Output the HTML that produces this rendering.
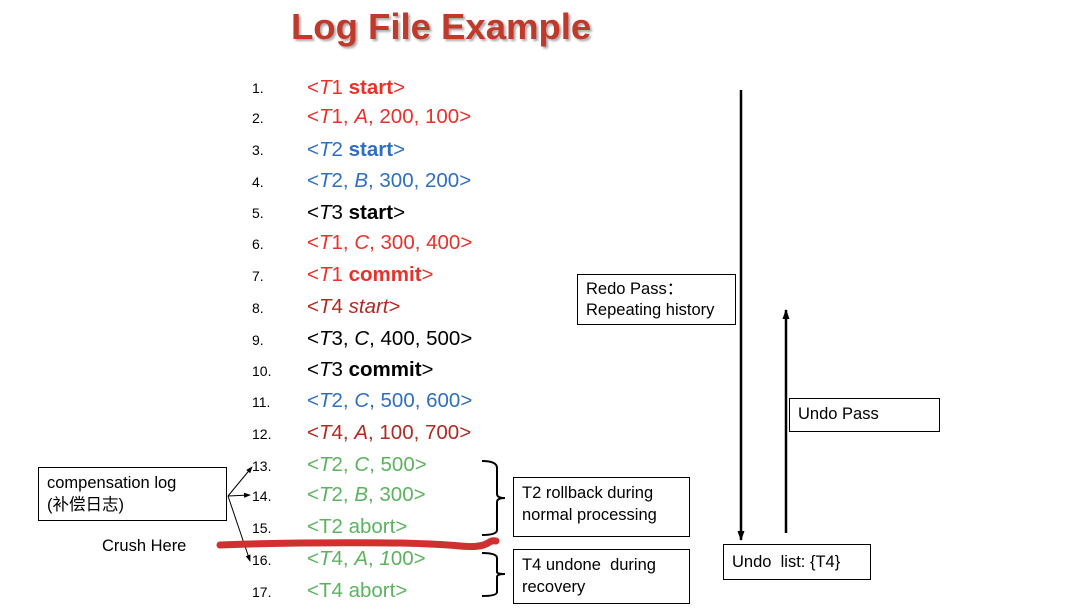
<!DOCTYPE html>
<html><head><meta charset="utf-8"><style>
body{margin:0;width:1090px;height:614px;background:#fff;position:relative;overflow:hidden;font-family:"Liberation Sans","Noto Sans CJK SC",sans-serif}
.a{position:absolute;white-space:nowrap}
.n{position:absolute;left:252px;font-size:14px;color:#000;transform:translateY(-50%)}
.e{position:absolute;left:307px;font-size:20.5px;transform:translateY(-50%);white-space:nowrap}
.r{color:#e8312a}.b{color:#2f6fc0}.k{color:#000}.d{color:#b02a22}.g{color:#5cb35f}
.box{position:absolute;border:1px solid #000;font-size:16.5px;padding:4px 8px;box-sizing:border-box;line-height:22px;white-space:nowrap}
</style></head><body>
<div class="a" style="left:291px;top:6px;font-size:36.5px;font-weight:bold;color:#c0392b;text-shadow:2px 2px 2px #aaa">Log File Example</div>

<div class="n" style="top:88px">1.</div><div class="e r" style="top:88px">&lt;<i>T</i>1 <b>start</b>&gt;</div>
<div class="n" style="top:118px">2.</div><div class="e r" style="top:117px">&lt;<i>T</i>1, <i>A</i>, 200, 100&gt;</div>
<div class="n" style="top:150px">3.</div><div class="e b" style="top:150px">&lt;<i>T</i>2 <b>start</b>&gt;</div>
<div class="n" style="top:182px">4.</div><div class="e b" style="top:181px">&lt;<i>T</i>2, <i>B</i>, 300, 200&gt;</div>
<div class="n" style="top:213px">5.</div><div class="e k" style="top:213px">&lt;<i>T</i>3 <b>start</b>&gt;</div>
<div class="n" style="top:244px">6.</div><div class="e r" style="top:243px">&lt;<i>T</i>1, <i>C</i>, 300, 400&gt;</div>
<div class="n" style="top:276px">7.</div><div class="e r" style="top:275px">&lt;<i>T</i>1 <b>commit</b>&gt;</div>
<div class="n" style="top:308px">8.</div><div class="e d" style="top:307px">&lt;<i>T</i>4 <i>start</i>&gt;</div>
<div class="n" style="top:340px">9.</div><div class="e k" style="top:339px">&lt;<i>T</i>3, <i>C</i>, 400, 500&gt;</div>
<div class="n" style="top:371px">10.</div><div class="e k" style="top:370px">&lt;<i>T</i>3 <b>commit</b>&gt;</div>
<div class="n" style="top:402px">11.</div><div class="e b" style="top:401px">&lt;<i>T</i>2, <i>C</i>, 500, 600&gt;</div>
<div class="n" style="top:434px">12.</div><div class="e d" style="top:433px">&lt;<i>T</i>4, <i>A</i>, 100, 700&gt;</div>
<div class="n" style="top:466px">13.</div><div class="e g" style="top:465px">&lt;<i>T</i>2, <i>C</i>, 500&gt;</div>
<div class="n" style="top:496px">14.</div><div class="e g" style="top:495px">&lt;<i>T</i>2, <i>B</i>, 300&gt;</div>
<div class="n" style="top:528px">15.</div><div class="e g" style="top:527px">&lt;T2 abort&gt;</div>
<div class="n" style="top:560px">16.</div><div class="e g" style="top:559px">&lt;<i>T</i>4, <i>A</i>, <i>1</i>00&gt;</div>
<div class="n" style="top:592px">17.</div><div class="e g" style="top:591px">&lt;T4 abort&gt;</div>

<div class="box" style="left:577px;top:274px;width:159px;height:51px;line-height:21px">Redo Pass：<br>Repeating history</div>
<div class="box" style="left:789px;top:398px;width:151px;height:34px">Undo Pass</div>
<div class="box" style="left:723px;top:544px;width:148px;height:36px;padding-top:6px">Undo&nbsp; list: {T4}</div>
<div class="box" style="left:513px;top:477px;width:177px;height:60px">T2 rollback during<br>normal processing</div>
<div class="box" style="left:513px;top:549px;width:177px;height:55px">T4 undone&nbsp; during<br>recovery</div>
<div class="box" style="left:38px;top:467px;width:189px;height:54px">compensation log<br>(补偿日志)</div>
<div class="a" style="left:102px;top:537px;font-size:16.5px">Crush Here</div>

<svg width="1090" height="614" style="position:absolute;left:0;top:0">
<defs>
<marker id="ah" markerUnits="userSpaceOnUse" markerWidth="10" markerHeight="10" refX="9" refY="5" orient="auto"><path d="M0,1.5 L10,5 L0,8.5 z" fill="#000"/></marker>
<marker id="as" markerUnits="userSpaceOnUse" markerWidth="7" markerHeight="7" refX="6" refY="3.5" orient="auto"><path d="M0,1 L7,3.5 L0,6 z" fill="#000"/></marker>
</defs>
<line x1="741" y1="90" x2="741" y2="540" stroke="#000" stroke-width="2.5" marker-end="url(#ah)"/>
<line x1="786" y1="533" x2="786" y2="310" stroke="#000" stroke-width="2.5" marker-end="url(#ah)"/>
<g stroke="#000" stroke-width="1" marker-end="url(#as)" fill="none">
<line x1="228" y1="496" x2="252" y2="467"/>
<line x1="228" y1="496" x2="250" y2="495"/>
<line x1="228" y1="496" x2="250" y2="561"/>
</g>
<path d="M482,461 Q497,461 497,468 L497,494 Q497,498 505,498 Q497,498 497,502 L497,530 Q497,535 482,535" stroke="#000" stroke-width="2" fill="none"/>
<path d="M482,553 Q497,553 497,558 L497,572 Q497,574 505,574 Q497,574 497,577 L497,592 Q497,596 482,596" stroke="#000" stroke-width="2" fill="none"/>
<path d="M220,545 Q300,542 400,543 Q440,544 460,546 Q480,548 488,543 Q492,540 496,541" stroke="#d03030" stroke-width="7" stroke-linecap="round" fill="none"/>
</svg>
</body></html>
